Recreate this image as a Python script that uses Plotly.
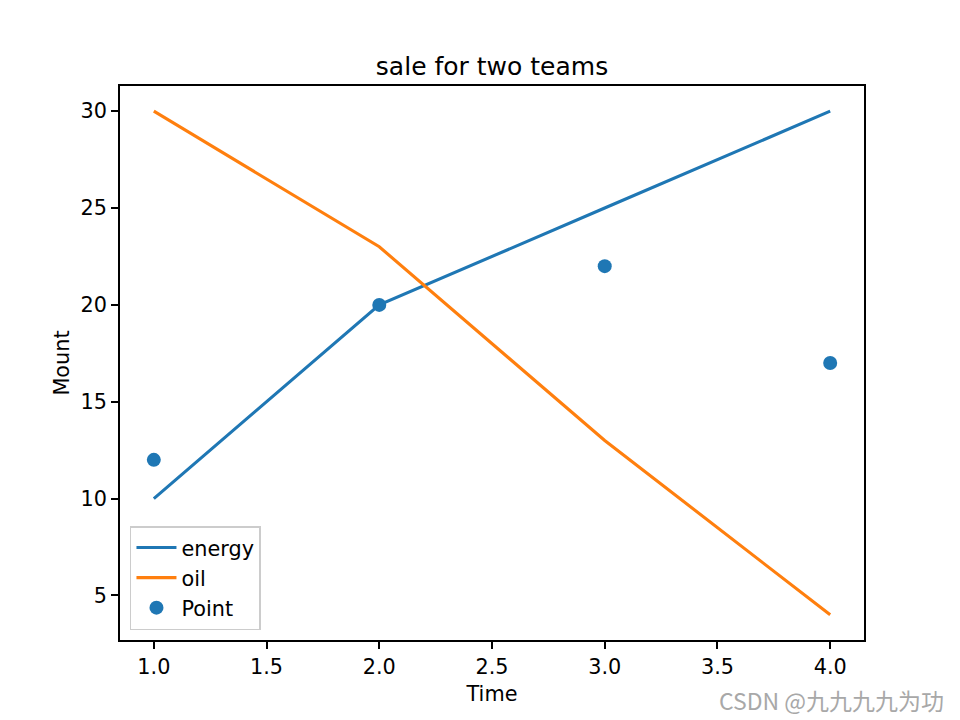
import plotly.graph_objects as go

# data
time = [1, 2, 3, 4]
energy = [10, 20, 25, 30]
oil = [30, 23, 13, 4]
points = [12, 20, 22, 17]

x_ticks = [1.0, 1.5, 2.0, 2.5, 3.0, 3.5, 4.0]
y_ticks = [5, 10, 15, 20, 25, 30]

FONT = "DejaVu Sans"

# the page body has an 8px margin, so the figure is 8px smaller each way
fig = go.Figure()
fig.add_trace(go.Scatter(x=time, y=energy, mode='lines', name='energy',
                         line=dict(color='#1f77b4', width=3.1)))
fig.add_trace(go.Scatter(x=time, y=oil, mode='lines', name='oil',
                         line=dict(color='#ff7f0e', width=3.1)))
fig.add_trace(go.Scatter(x=time, y=points, mode='markers', name='Point',
                         marker=dict(color='#1f77b4', size=14, line=dict(width=0))))

axis_style = dict(showgrid=False, zeroline=False, showline=True, mirror=True,
                  linecolor='black', linewidth=1.7, ticks='outside', ticklen=7,
                  tickwidth=1.7, tickcolor='black',
                  tickfont=dict(family=FONT, size=20.8, color='black'))

fig.update_layout(
    width=952, height=712,
    paper_bgcolor='white', plot_bgcolor='white',
    margin=dict(l=112, r=96, t=78, b=80),
    font=dict(family=FONT, color='black'),
    title=dict(text='sale for two teams', xref='paper', x=0.5, xanchor='center',
               y=1 - 58 / 712, yanchor='middle',
               font=dict(family=FONT, size=25, color='black')),
    xaxis=dict(range=[0.85, 4.15], tickvals=x_ticks, tickformat='.1f',
               title=dict(text='Time', font=dict(family=FONT, size=20.8), standoff=9),
               **axis_style),
    yaxis=dict(range=[2.7, 31.3], tickvals=y_ticks,
               title=dict(text='Mount', font=dict(family=FONT, size=20.8), standoff=5),
               **axis_style),
    legend=dict(x=0.0134, y=0.018, xanchor='left', yanchor='bottom',
                bgcolor='rgba(255,255,255,0.8)', bordercolor='#cccccc', borderwidth=1.5,
                font=dict(family=FONT, size=20.8, color='black'), tracegroupgap=0,
                itemwidth=40),
    showlegend=True,
)

fig.add_annotation(text='CSDN @九九九九为功', xref='paper', yref='paper',
                   x=1 + 82 / 744, y=-60 / 554, xanchor='right', yanchor='middle',
                   showarrow=False,
                   font=dict(family='Noto Sans CJK SC', size=23, color='#a8a8a8'))

fig.write_html("out.html")
